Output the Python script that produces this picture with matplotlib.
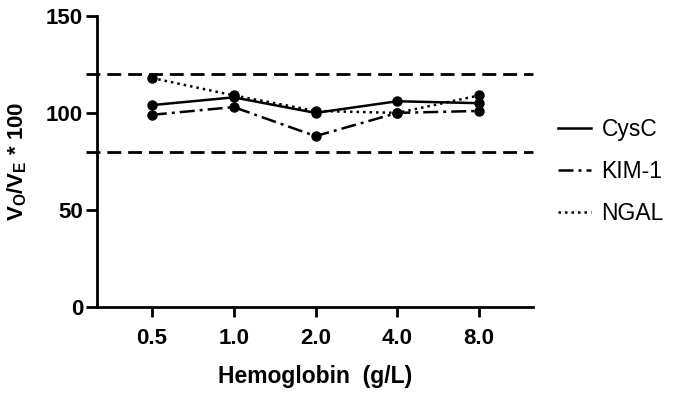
import numpy as np
import matplotlib
matplotlib.use('Agg')
from matplotlib import pyplot as plt

plt.rcParams['font.family'] = ['Liberation Sans', 'DejaVu Sans']
plt.rcParams['mathtext.fontset'] = 'custom'
plt.rcParams['mathtext.rm'] = 'Liberation Sans'
plt.rcParams['mathtext.bf'] = 'Liberation Sans:bold'

# данные
hb_labels = ['0.5', '1.0', '2.0', '4.0', '8.0']
cysc = [104, 108, 100, 106, 105]
kim1 = [99, 103, 88, 100, 101]
ngal = [118, 109, 101, 100, 109]
limits = [120, 80]

x = np.arange(len(hb_labels))

fig = plt.figure(figsize=(6.74, 3.97), dpi=100)
ax = fig.add_axes([0.144, 0.227, 0.647, 0.733])

for lim in limits:
    ax.axhline(lim, xmin=-0.025, xmax=1.0, color='black', lw=2, ls=(0, (5, 2.5)), clip_on=False, zorder=1)

ax.plot(x, cysc, color='black', lw=1.8, ls='-', marker='o', ms=6.5, label='CysC', zorder=3)
ax.plot(x, kim1, color='black', lw=1.8, ls=(0, (6, 2, 1.2, 2)), marker='o', ms=6.5, label='KIM-1', zorder=3)
ax.plot(x, ngal, color='black', lw=1.8, ls=(0, (1, 1.6)), marker='o', ms=6.5, label='NGAL', zorder=3)

ax.set_xlim(-0.67, 4.66)
ax.set_ylim(0, 150)
ax.set_yticks([0, 50, 100, 150])
ax.set_xticks(x)
ax.set_xticklabels(hb_labels)

for s in ['top', 'right']:
    ax.spines[s].set_visible(False)
for s in ['left', 'bottom']:
    ax.spines[s].set_linewidth(2)

ax.tick_params(axis='y', length=8, width=2, labelsize=16, pad=2)
ax.tick_params(axis='x', length=7, width=2, labelsize=16, pad=8)
for t in ax.get_xticklabels() + ax.get_yticklabels():
    t.set_fontweight('bold')

ax.set_xlabel('Hemoglobin  (g/L)', fontsize=16.5, fontweight='bold', labelpad=12)
ax.set_ylabel(r'$\mathbf{V_O/V_E}$ * 100', fontsize=16, fontweight='bold', labelpad=12)

leg = ax.legend(loc='center left', bbox_to_anchor=(1.057, 0.465), frameon=False, fontsize=16.5,
                handlelength=1.45, handletextpad=0.45, labelspacing=0.82,
                borderpad=0, borderaxespad=0)
for h in leg.get_lines():
    h.set_marker('')

fig.savefig('out.png', dpi=100)
